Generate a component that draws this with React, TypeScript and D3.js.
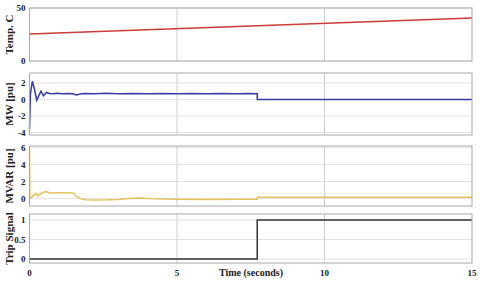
import React from 'react'
import * as d3 from 'd3'

// time axis
const xTicks = [0, 5, 10, 15]
const tripTime = 7.72

// Temperature (deg C)
const tempT = [0, 15]
const tempV = [25.5, 40.5]

// MW [pu]
const mwT = [0, 0.03, 0.095, 0.17, 0.245, 0.32, 0.39, 0.47, 0.58, 0.68, 0.8, 0.95, 1.1, 1.3, 1.45, 1.6, 1.75, 1.9, 2.2, 2.6, 3.0, 3.5, 4.0, 4.5, 5.0, 5.5, 6.0, 6.5, 7.0, 7.5, 7.72, 7.72, 15]
const mwV = [-3.6, 0.6, 2.2, 1.2, -0.1, 0.5, 1.0, 0.45, 0.85, 0.72, 0.68, 0.74, 0.7, 0.72, 0.7, 0.55, 0.68, 0.72, 0.7, 0.74, 0.7, 0.72, 0.69, 0.73, 0.7, 0.72, 0.7, 0.73, 0.7, 0.72, 0.7, 0.0, 0.0]

// MVAR [pu]
const mvT = [0, 0.01, 0.05, 0.12, 0.22, 0.3, 0.42, 0.55, 0.7, 1.0, 1.4, 1.5, 1.6, 1.75, 1.9, 2.2, 2.6, 3.0, 3.4, 3.7, 4.2, 5.0, 6.0, 7.0, 7.72, 7.72, 15]
const mvV = [6.0, 0.2, 0.05, 0.3, 0.6, 0.3, 0.65, 0.8, 0.65, 0.68, 0.66, 0.6, 0.2, -0.05, -0.15, -0.18, -0.17, -0.12, 0.0, 0.05, -0.05, -0.1, -0.12, -0.1, -0.1, 0.15, 0.15]

// Trip signal
const tripT = [0, tripTime, tripTime, 15]
const tripV = [0, 0, 1, 1]

type Panel = {
  label: string
  t: number[]
  v: number[]
  domain: [number, number]
  ticks: number[]
  color: string
  top: number
  bottom: number
}

const panels: Panel[] = [
  { label: 'Temp. C', t: tempT, v: tempV, domain: [0, 50], ticks: [0, 50], color: '#cc3b3b', top: 8, bottom: 61 },
  { label: 'MW [pu]', t: mwT, v: mwV, domain: [-4.3, 3.2], ticks: [-4, -2, 0, 2], color: '#3b3ba6', top: 73, bottom: 135 },
  { label: 'MVAR [pu]', t: mvT, v: mvV, domain: [-0.9, 6.2], ticks: [0, 2, 4, 6], color: '#e6c25a', top: 146, bottom: 206 },
  { label: 'Trip Signal', t: tripT, v: tripV, domain: [-0.1, 1.15], ticks: [0, 0.5, 1], color: '#333333', top: 214, bottom: 263 },
]

const W = 480
const H = 286
const left = 29.5
const right = 472
const font = '"Liberation Serif", "Times New Roman", serif'

export default function App() {
  const x = d3.scaleLinear().domain([0, 15]).range([left, right])

  return (
    <div style={{ position: 'fixed', top: 0, left: 0, background: '#fff' }}>
      <svg width={W} height={H} style={{ display: 'block', background: '#fff' }}>
        {panels.map((p) => {
          const y = d3.scaleLinear().domain(p.domain).range([p.bottom, p.top])
          const pts = p.t.map((t, i) => [t, p.v[i]] as [number, number])
          const line = d3
            .line<[number, number]>()
            .x((d) => x(d[0]))
            .y((d) => y(d[1]))
          const mid = (p.top + p.bottom) / 2
          return (
            <g key={p.label}>
              <rect x={left} y={p.top} width={right - left} height={p.bottom - p.top} fill="#fff" />
              {p.ticks.map((tk) => (
                <line key={'h' + tk} x1={left} x2={right} y1={y(tk)} y2={y(tk)} stroke="#e2e2e2" strokeWidth={1} />
              ))}
              {xTicks.slice(1, -1).map((tk) => (
                <line key={'v' + tk} x1={x(tk)} x2={x(tk)} y1={p.top} y2={p.bottom} stroke="#cfcfcf" strokeWidth={1} />
              ))}
              <path d={line(pts) || ''} fill="none" stroke={p.color} strokeWidth={1.5} />
              <rect
                x={left}
                y={p.top}
                width={right - left}
                height={p.bottom - p.top}
                fill="none"
                stroke="#a8a8a8"
                strokeWidth={1}
              />
              {p.ticks.map((tk) => (
                <text
                  key={'t' + tk}
                  x={left - 4}
                  y={y(tk)}
                  dy="0.35em"
                  textAnchor="end"
                  fontFamily={font}
                  fontWeight="bold"
                  fontSize={9}
                  fill="#222"
                >
                  {tk}
                </text>
              ))}
              <text
                transform={`translate(13,${mid}) rotate(-90)`}
                textAnchor="middle"
                fontFamily={font}
                fontWeight="bold"
                fontSize={11}
                fill="#222"
              >
                {p.label}
              </text>
            </g>
          )
        })}
        {xTicks.map((tk) => (
          <text
            key={'x' + tk}
            x={x(tk)}
            y={276}
            textAnchor="middle"
            fontFamily={font}
            fontWeight="bold"
            fontSize={9}
            fill="#222"
          >
            {tk}
          </text>
        ))}
        <text x={251} y={276} textAnchor="middle" fontFamily={font} fontWeight="bold" fontSize={10} fill="#222">
          Time (seconds)
        </text>
      </svg>
    </div>
  )
}
